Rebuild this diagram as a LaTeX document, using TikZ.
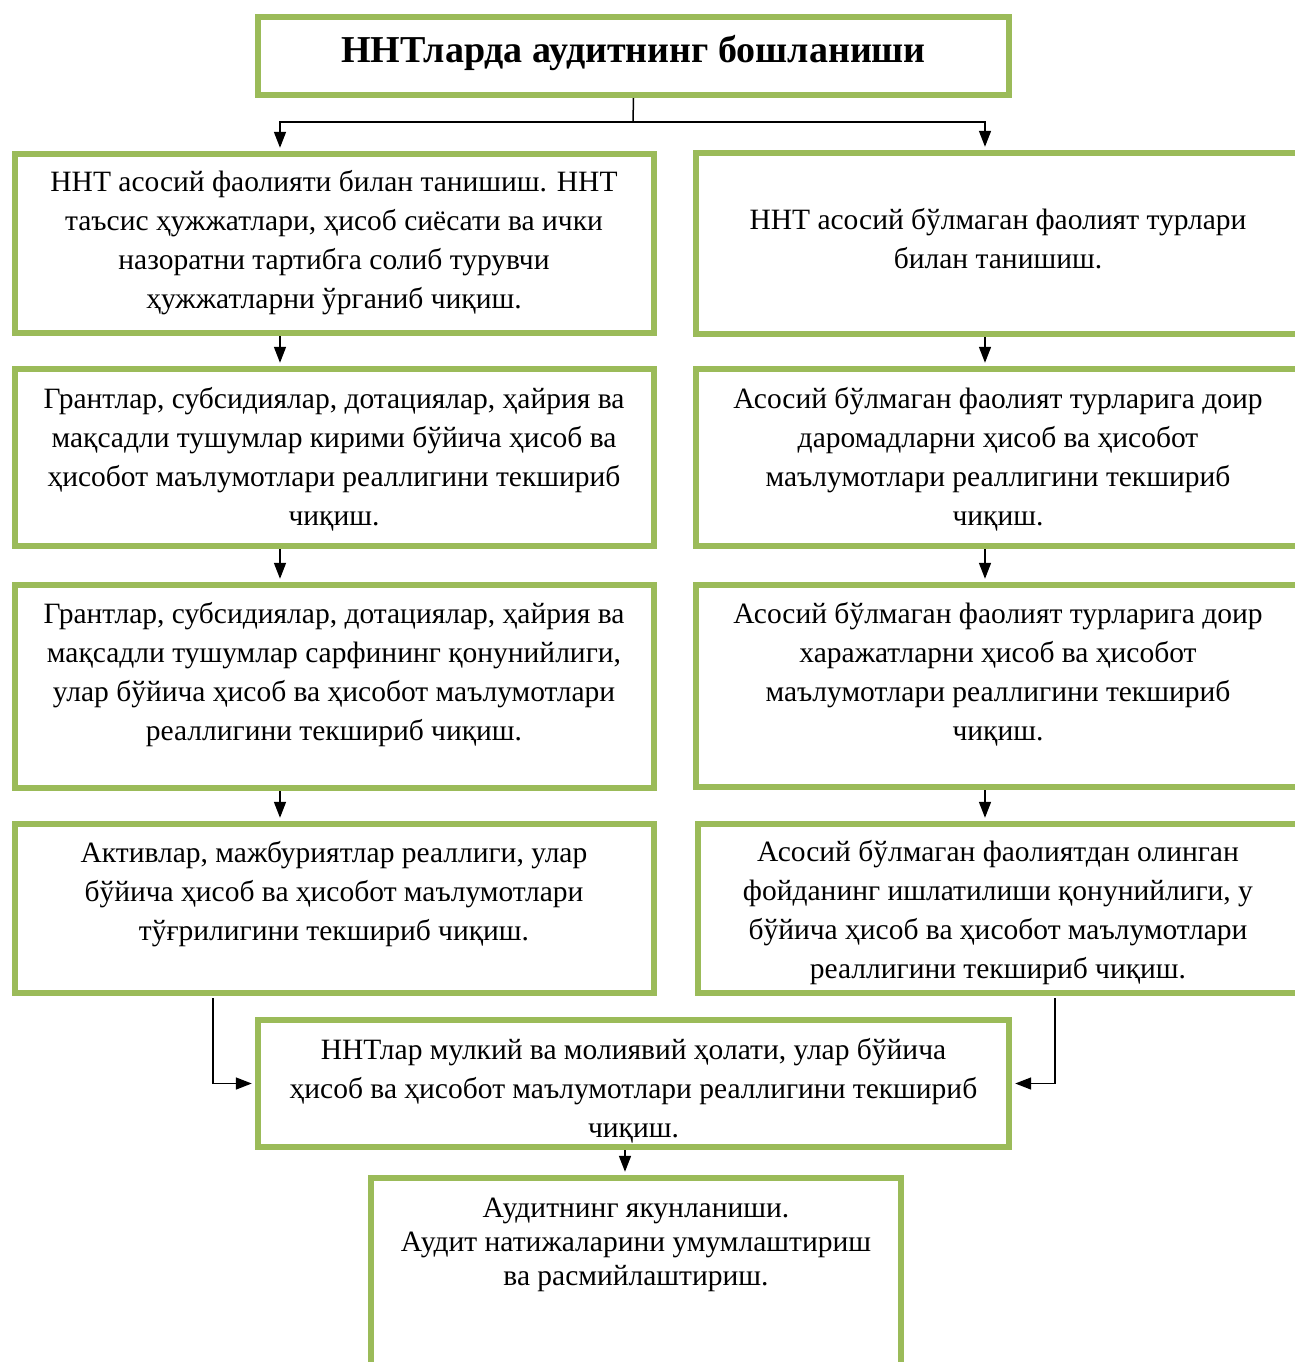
\documentclass[tikz,border=0pt]{standalone}
\usepackage{fontspec}
\setmainfont{Liberation Serif}
\usetikzlibrary{arrows.meta,calc}
\definecolor{grn}{HTML}{9BBB59}
\begin{document}
\begin{tikzpicture}[x=0.5pt,y=-0.5pt,
  box/.style={draw=grn,line width=3pt,inner sep=0pt,fill=white},
  txt/.style={align=center,inner sep=0pt,font=\fontsize{14.75}{19.5}\selectfont},
  ln/.style={line width=0.75pt},
  arr/.style={line width=0.75pt,-{Triangle[width=6pt,length=8pt]},shorten >=1.6pt}]
\useasboundingbox (0,0) rectangle (1295,1362);
\fill[white] (0,0) rectangle (1295,1362);
% boxes
\node[box,minimum width=375.5pt,minimum height=39pt] (T) at (633.5,56) {};
\node[box,minimum width=319.5pt,minimum height=89.5pt] (L1) at (334.5,243.5) {};
\node[box,minimum width=319.5pt,minimum height=88.5pt] (L2) at (334.5,457.5) {};
\node[box,minimum width=319.5pt,minimum height=101.5pt] (L3) at (334.5,686.5) {};
\node[box,minimum width=319.5pt,minimum height=84.5pt] (L4) at (334.5,908.5) {};
\node[box,minimum width=312pt,minimum height=90.5pt] (R1) at (1008,243.5) {};
\node[box,minimum width=312pt,minimum height=88.5pt] (R2) at (1008,457.5) {};
\node[box,minimum width=312pt,minimum height=101pt] (R3) at (1008,686) {};
\node[box,minimum width=311pt,minimum height=84.5pt] (R4) at (1009,908.5) {};
\node[box,minimum width=375.5pt,minimum height=63.5pt] (M) at (633.5,1083.5) {};
\node[box,minimum width=265pt,minimum height=111pt] (B) at (636,1289) {};
% texts
\node[txt,font=\bfseries\fontsize{19}{22}\selectfont] (tT) at (633.5,53) {ННТларда аудитнинг бошланиши};
\node[txt] (tL1) at (334,243) {ННТ асосий фаолияти билан танишиш. ННТ\\таъсис ҳужжатлари, ҳисоб сиёсати ва ички\\назоратни тартибга солиб турувчи\\ҳужжатларни ўрганиб чиқиш.};
\node[txt] (tR1) at (998,239) {ННТ асосий бўлмаган фаолият турлари\\билан танишиш.};
\node[txt] (tL2) at (334,459) {Грантлар, субсидиялар, дотациялар, ҳайрия ва\\мақсадли тушумлар кирими бўйича ҳисоб ва\\ҳисобот маълумотлари реаллигини текшириб\\чиқиш.};
\node[txt] (tR2) at (998,459) {Асосий бўлмаган фаолият турларига доир\\даромадларни ҳисоб ва ҳисобот\\маълумотлари реаллигини текшириб\\чиқиш.};
\node[txt] (tL3) at (334,675) {Грантлар, субсидиялар, дотациялар, ҳайрия ва\\мақсадли тушумлар сарфининг қонунийлиги,\\улар бўйича ҳисоб ва ҳисобот маълумотлари\\реаллигини текшириб чиқиш.};
\node[txt] (tR3) at (998,674) {Асосий бўлмаган фаолият турларига доир\\харажатларни ҳисоб ва ҳисобот\\маълумотлари реаллигини текшириб\\чиқиш.};
\node[txt] (tL4) at (334,894) {Активлар, мажбуриятлар реаллиги, улар\\бўйича ҳисоб ва ҳисобот маълумотлари\\тўғрилигини текшириб чиқиш.};
\node[txt] (tR4) at (998,913) {Асосий бўлмаган фаолиятдан олинган\\фойданинг ишлатилиши қонунийлиги, у\\бўйича ҳисоб ва ҳисобот маълумотлари\\реаллигини текшириб чиқиш.};
\node[txt] (tM) at (633.5,1091) {ННТлар мулкий ва молиявий ҳолати, улар бўйича\\ҳисоб ва ҳисобот маълумотлари реаллигини текшириб\\чиқиш.};
\node[txt,font=\fontsize{14.75}{17}\selectfont] (tB) at (636,1245) {Аудитнинг якунланиши.\\Аудит натижаларини умумлаштириш\\ва расмийлаштириш.};
% connector coordinates
\coordinate (sp) at (633,122);
\coordinate (cl) at (280,0);
\coordinate (cr) at (985,0);
\coordinate (dl) at (213,0);
\coordinate (dr) at (1055,0);
\coordinate (cm) at (625,0);
% connectors
\draw[ln] (T.south) -- (sp);
\draw[arr] (sp) -| (L1.north -| cl);
\draw[arr] (sp) -| (R1.north -| cr);
\draw[arr] (L1.south -| cl) -- (L2.north -| cl);
\draw[arr] (L2.south -| cl) -- (L3.north -| cl);
\draw[arr] (L3.south -| cl) -- (L4.north -| cl);
\draw[arr] (R1.south -| cr) -- (R2.north -| cr);
\draw[arr] (R2.south -| cr) -- (R3.north -| cr);
\draw[arr] (R3.south -| cr) -- (R4.north -| cr);
\draw[arr] ([yshift=-1pt]L4.south -| dl) |- (M.west);
\draw[arr] ([yshift=-1pt]R4.south -| dr) |- (M.east);
\draw[arr] (M.south -| cm) -- (B.north -| cm);
\end{tikzpicture}
\end{document}
